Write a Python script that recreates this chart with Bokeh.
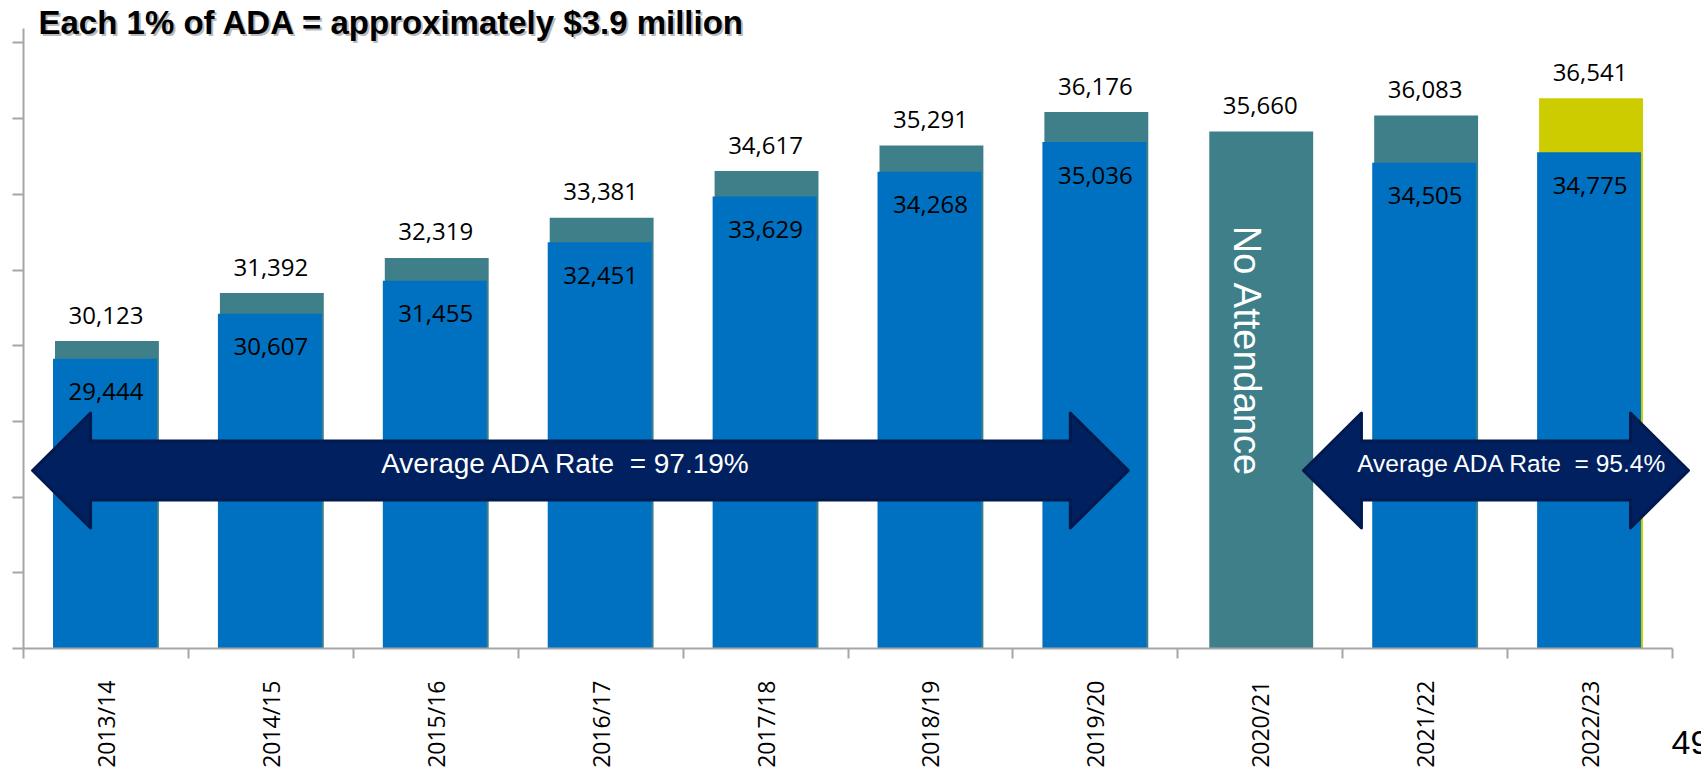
import math
from bokeh.plotting import figure
from bokeh.models import Range1d, LinearAxis, FixedTicker, ColumnDataSource, Label
from bokeh.transform import dodge
from bokeh.core.properties import value
from bokeh.embed import file_html
from bokeh.resources import INLINE

# ---------------- data ----------------
categories = ["2013/14", "2014/15", "2015/16", "2016/17", "2017/18",
              "2018/19", "2019/20", "2020/21", "2021/22", "2022/23"]
enrollment = [30123, 31392, 32319, 33381, 34617, 35291, 36176, 35660, 36083, 36541]
ada = [29444, 30607, 31455, 32451, 33629, 34268, 35036, None, 34505, 34775]
y_ticks = [22000, 24000, 26000, 28000, 30000, 32000, 34000, 36000, 38000]
title_text = "Each 1% of ADA = approximately $3.9 million"
arrow_texts = ["Average ADA Rate \u00a0= 97.19%", "Average ADA Rate \u00a0= 95.4%"]
arrow_spans = [("2013/14", "2019/20"), ("2021/22", "2022/23")]
no_attendance_year = "2020/21"
no_attendance_text = "No Attendance"
highlight_year = "2022/23"
page_number = "49"

# ---------------- layout / styles ----------------
W, H = 1701, 768
cat_px = 164.9                 # pixels per category
y_px = 0.037844                # pixels per unit (enrollment scale)
ada_px = 0.038754              # pixels per unit (ADA scale)
base = y_ticks[0]
ada_base = 21968
AX_LEFT, AX_BOTTOM = 23, 120   # axis position inside the canvas

x_start = -0.5 - AX_LEFT / cat_px
x_end = x_start + W / cat_px
y_start = base - AX_BOTTOM / y_px
y_end = y_start + H / y_px
ada_start = ada_base - AX_BOTTOM / ada_px
ada_end = ada_start + H / ada_px

BLUE = "#0070C0"
TEAL = "#3E7F89"
YELLOW = "#CCCC00"
NAVY = "#002060"
AXIS = "#A6A6A6"


def xd(px):  # canvas x -> data x
    return x_start + px / cat_px


def yd(py):  # canvas y -> data y
    return y_start + (H - py) / y_px


p = figure(width=W, height=H, output_backend="svg", toolbar_location=None,
           x_range=Range1d(x_start, x_end), y_range=Range1d(y_start, y_end),
           x_axis_type=None, y_axis_type=None,
           min_border_left=0, min_border_right=0, min_border_top=0,
           min_border_bottom=0)
p.outline_line_color = None
p.background_fill_color = "white"
p.border_fill_color = "white"
p.extra_y_ranges = {"ada": Range1d(ada_start, ada_end)}

idx = list(range(len(categories)))

# axes (drawn at fixed positions inside the frame)
xaxis = LinearAxis(
    fixed_location=base,
    ticker=FixedTicker(ticks=idx, minor_ticks=[i - 0.5 for i in range(len(categories) + 1)]),
    major_label_overrides={i: c for i, c in enumerate(categories)},
    bounds=(-0.5, len(categories) - 0.5),
    major_label_orientation=math.pi / 2,
    major_tick_out=0, major_tick_in=0,
    minor_tick_out=10, minor_tick_in=0,
    minor_tick_line_color=AXIS, minor_tick_line_width=2,
    axis_line_color=AXIS, axis_line_width=2,
    major_label_standoff=22,
    major_label_text_font="Open Sans", major_label_text_font_size="23px",
    major_label_text_color="black")
p.add_layout(xaxis, "below")

yaxis = LinearAxis(
    fixed_location=-0.5,
    ticker=FixedTicker(ticks=y_ticks, minor_ticks=[]),
    major_label_overrides={t: "" for t in y_ticks},
    major_label_standoff=0, major_label_text_font_size="0px",
    bounds=(base, yd(28)),
    major_tick_out=11, major_tick_in=0,
    major_tick_line_color=AXIS, major_tick_line_width=2,
    axis_line_color=AXIS, axis_line_width=2)
p.add_layout(yaxis, "left")

# bars
total_colors = [YELLOW if c == highlight_year else TEAL for c in categories]
src_total = ColumnDataSource(dict(
    x=idx, top=enrollment, color=total_colors,
    lbl=[f"{v:,}" for v in enrollment]))
p.vbar(x=dodge("x", 0.006, range=p.x_range), top="top", bottom=base, width=0.63,
       fill_color="color", line_color=None, source=src_total)

ada_idx = [i for i, v in zip(idx, ada) if v is not None]
ada_vals = [v for v in ada if v is not None]
src_ada = ColumnDataSource(dict(x=ada_idx, top=ada_vals, lbl=[f"{v:,}" for v in ada_vals]))
p.vbar(x=dodge("x", -0.006, range=p.x_range), top="top", bottom=ada_base, width=0.63,
       fill_color=BLUE, line_color=None, source=src_ada, y_range_name="ada")

# value labels
p.text(x="x", y="top", text="lbl", source=src_total, y_offset=-26,
       text_align="center", text_baseline="middle",
       text_font=value("Open Sans"), text_font_size="24px", text_color="black")
p.text(x="x", y="top", text="lbl", source=src_ada, y_offset=33, y_range_name="ada",
       text_align="center", text_baseline="middle",
       text_font=value("Open Sans"), text_font_size="24px", text_color="black")

# No attendance
p.add_layout(Label(x=categories.index(no_attendance_year), y=yd(351), x_offset=-13,
                   text=no_attendance_text, angle=-math.pi / 2,
                   text_align="center", text_baseline="middle",
                   text_font="Liberation Sans", text_font_size="38px", text_color="white"))

# arrows
yc = yd(470)
head_half = 57.5 / y_px
shaft_half = 29.5 / y_px
head_len = 58 / cat_px
arrow_pads = [(-0.445, 0.20), (-0.738, 0.597)]
arrow_text_x = [xd(566), xd(1512)]
arrow_font = ["28px", "24.5px"]
for (c0, c1), (pad0, pad1), txt, tx, fs in zip(arrow_spans, arrow_pads, arrow_texts,
                                              arrow_text_x, arrow_font):
    x0 = categories.index(c0) + pad0
    x1 = categories.index(c1) + pad1
    xs = [x0, x0 + head_len, x0 + head_len, x1 - head_len, x1 - head_len, x1,
          x1 - head_len, x1 - head_len, x0 + head_len, x0 + head_len]
    ys = [yc, yc + head_half, yc + shaft_half, yc + shaft_half, yc + head_half, yc,
          yc - head_half, yc - shaft_half, yc - shaft_half, yc - head_half]
    p.patch(xs, ys, fill_color=NAVY, line_color="#001A4D", line_width=3, line_join="round")
    p.add_layout(Label(x=tx, y=yd(463), text=txt, text_align="center",
                       text_baseline="alphabetic", text_font="Liberation Sans",
                       text_font_size=fs, text_color="white"))

# title with shadow
title_font = "Liberation Sans"
for dx, dy, col, al in [(2, -2, "#7F7F7F", 0.55), (0, 0, "black", 1.0)]:
    p.add_layout(Label(x=xd(38), y=yd(22), x_offset=dx, y_offset=dy, text=title_text,
                       text_align="left", text_baseline="alphabetic",
                       text_font=title_font, text_font_style="bold", text_font_size="33px",
                       text_color=col, text_alpha=al))

# page number
p.add_layout(Label(x=xd(1671), y=yd(742), text=page_number, text_align="left",
                   text_baseline="alphabetic", text_font="Liberation Sans",
                   text_font_size="34px", text_color="black"))

open("out.html", "w").write(file_html(p, INLINE, title="ADA"))
